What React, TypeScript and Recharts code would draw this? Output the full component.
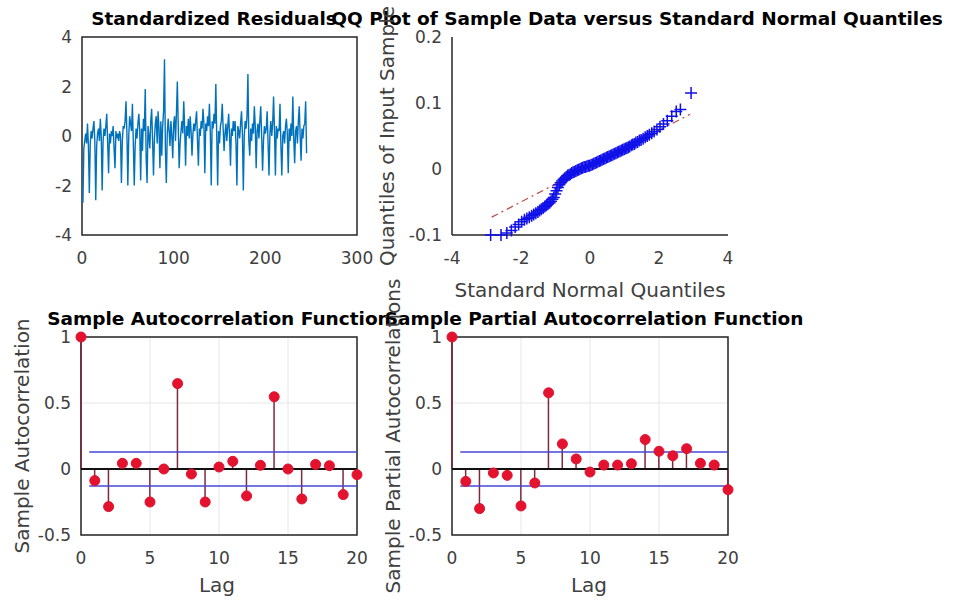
import React from "react";
import {
  LineChart,
  Line,
  ComposedChart,
  Scatter,
  Bar,
  XAxis,
  YAxis,
  CartesianGrid,
  ReferenceArea,
  ReferenceLine,
} from "recharts";

const W = 957;
const H = 603;

// standardized residuals, 35 weeks x 7 days
const residuals = [
  -2.7, -0.5, -0.2, 0.1, -0.3, 0.5, -0.4,
  -2.3, -0.3, 0.2, -0.1, 0.3, 0.6, -0.2,
  -2.6, -0.4, 0.1, 0.3, -0.2, 0.7, 0.0,
  -2.2, -0.2, 0.3, 0.0, 0.4, 0.9, -0.3,
  -1.5, 0.1, -0.3, 0.2, 0.0, 0.4, -0.5,
  -1.3, 0.2, -0.1, 0.1, -0.2, 0.2, 0.0,
  -1.9, -0.2, 0.4, 0.3, 0.6, 1.4, 0.1,
  -2.0, 0.0, 0.8, 0.5, 0.2, 1.3, -0.3,
  -2.0, -0.4, 0.3, -0.1, 0.5, 0.9, 0.2,
  -1.8, 0.3, -0.6, 0.7, 0.2, 1.9, -0.9,
  -1.9, 0.4, 0.0, -0.5, 0.6, 1.1, -0.2,
  -1.6, -0.1, 0.5, 0.8, -0.3, 1.0, 0.3,
  -1.3, 0.6, -0.8, 0.4, 1.0, 3.1, -0.6,
  -1.9, 0.1, 0.7, 0.2, -0.4, 0.6, 0.0,
  -0.9, 0.5, 0.8, -0.2, 0.9, 2.2, 0.4,
  -1.3, -0.3, 0.2, 0.6, 0.1, 1.4, 0.3,
  -1.2, 0.4, 0.0, 0.7, -0.1, 0.8, 0.2,
  -0.8, 0.1, 0.5, 0.2, 0.6, 1.0, -0.2,
  -1.2, 0.3, 0.0, 0.6, 0.3, 1.1, 0.5,
  -1.5, 0.5, 0.2, 0.8, 0.4, 1.3, 0.1,
  -2.0, 0.6, 0.3, 0.9, 0.5, 2.1, 0.0,
  -2.0, 0.2, -0.3, 0.4, 0.6, 1.3, 0.3,
  -0.6, 0.1, 0.5, -0.2, 0.4, 0.9, 0.0,
  -1.2, 0.3, 0.0, 0.6, 0.2, 0.6, -0.3,
  -2.0, 0.4, 0.2, -0.1, 0.5, 1.0, 0.1,
  -2.2, 0.0, 0.6, 0.3, 0.8, 2.5, -0.2,
  -0.8, 0.3, -0.2, 0.5, 0.1, 1.2, 0.4,
  -1.3, 0.2, 0.5, -0.1, 0.6, 1.2, 0.0,
  -1.4, -0.2, 0.4, 0.1, 0.3, 1.0, -0.3,
  -1.6, 0.1, 0.6, 0.0, 0.5, 1.6, 0.2,
  -1.6, 0.4, -0.1, 0.3, 0.2, 1.3, -0.4,
  -1.6, 0.0, 0.2, -0.3, 0.4, 0.7, 0.1,
  -1.5, 0.3, -0.2, 0.5, 0.0, 1.6, -0.1,
  -1.1, 0.2, 0.4, -0.3, 0.6, 1.2, 0.0,
  -1.0, 0.3, -0.1, 0.4, 0.5, 1.4, -0.7,
];
const residTicksX = [0, 100, 200, 300];
const residTicksY = [-4, -2, 0, 2, 4];

// QQ plot: theoretical normal quantiles vs sample quantiles
const qqTheoretical = [
  -2.88, -2.58, -2.41, -2.28, -2.17, -2.07, -1.98, -1.9, -1.83, -1.76,
  -1.69, -1.63, -1.57, -1.51, -1.46, -1.41, -1.36, -1.31, -1.26, -1.22,
  -1.17, -1.13, -1.09, -1.05, -1.01, -0.97, -0.93, -0.89, -0.85, -0.81,
  -0.77, -0.73, -0.69, -0.65, -0.61, -0.57, -0.53, -0.49, -0.45, -0.41,
  -0.37, -0.33, -0.29, -0.25, -0.21, -0.17, -0.13, -0.09, -0.05, -0.01,
  0.03, 0.07, 0.11, 0.15, 0.19, 0.23, 0.27, 0.31, 0.35, 0.39,
  0.43, 0.47, 0.51, 0.55, 0.59, 0.63, 0.67, 0.71, 0.75, 0.79,
  0.83, 0.87, 0.91, 0.95, 0.99, 1.03, 1.07, 1.11, 1.15, 1.2,
  1.24, 1.29, 1.33, 1.38, 1.43, 1.48, 1.54, 1.6, 1.66, 1.72,
  1.79, 1.86, 1.94, 2.03, 2.13, 2.24, 2.37, 2.5, 2.62, 2.93,
];
const qqSample = [
  -0.1, -0.1, -0.097, -0.093, -0.088, -0.084, -0.08, -0.077, -0.075, -0.073,
  -0.071, -0.069, -0.067, -0.065, -0.063, -0.061, -0.059, -0.057, -0.055, -0.053,
  -0.051, -0.049, -0.046, -0.043, -0.038, -0.033, -0.028, -0.024, -0.021, -0.018,
  -0.016, -0.014, -0.012, -0.01, -0.009, -0.008, -0.006, -0.005, -0.004, -0.003,
  -0.002, -0.001, 0.0, 0.001, 0.002, 0.003, 0.003, 0.004, 0.005, 0.005,
  0.006, 0.007, 0.008, 0.009, 0.01, 0.011, 0.012, 0.013, 0.014, 0.015,
  0.016, 0.017, 0.018, 0.019, 0.02, 0.021, 0.022, 0.023, 0.024, 0.025,
  0.026, 0.027, 0.028, 0.029, 0.03, 0.031, 0.032, 0.033, 0.034, 0.036,
  0.037, 0.038, 0.04, 0.041, 0.043, 0.044, 0.046, 0.048, 0.05, 0.052,
  0.054, 0.057, 0.06, 0.064, 0.068, 0.073, 0.08, 0.087, 0.09, 0.115,
];
const qqRefLine = [
  { x: -2.85, y: -0.073 },
  { x: 2.9, y: 0.083 },
];
const qqTicksX = [-4, -2, 0, 2, 4];
const qqTicksY = [-0.1, 0, 0.1, 0.2];

// autocorrelation / partial autocorrelation
const lags = [0, 1, 2, 3, 4, 5, 6, 7, 8, 9, 10, 11, 12, 13, 14, 15, 16, 17, 18, 19, 20];
const acfValues = [
  1, -0.088, -0.285, 0.043, 0.043, -0.25, 0.0, 0.647, -0.038, -0.25, 0.015,
  0.058, -0.204, 0.028, 0.547, 0.0, -0.227, 0.035, 0.025, -0.194, -0.043,
];
const pacfValues = [
  1, -0.094, -0.3, -0.03, -0.048, -0.28, -0.106, 0.577, 0.19, 0.076, -0.023,
  0.03, 0.03, 0.04, 0.223, 0.134, 0.1, 0.154, 0.043, 0.03, -0.157,
];
const confBound = 0.128;
const lagTicks = [0, 5, 10, 15, 20];
const corrTicks = [-0.5, 0, 0.5, 1];

const FONT = "DejaVu Sans";
const frameColor = "#262626";
const tickStyle = { fontSize: 17, fill: "#404040", fontFamily: FONT };
const stemColor = "#7d2a3c";
const dotColor = "#e3122e";
const boundColor = "#4646d8";
const qqBlue = "#1010e8";

const layer: React.CSSProperties = { position: "absolute", left: 0, top: 0 };

const PlusMarker = (props: any) => {
  const { cx, cy } = props;
  const s = 6;
  return (
    <path
      d={`M${cx - s},${cy}H${cx + s}M${cx},${cy - s}V${cy + s}`}
      stroke={qqBlue}
      strokeWidth={1.5}
      fill="none"
    />
  );
};

const ResidualPlot = () => {
  const data = residuals.map((r, i) => ({ t: i + 1, r }));
  return (
    <div style={layer}>
      <LineChart
        width={W}
        height={H}
        data={data}
        margin={{ top: 37, left: 42, right: W - 357, bottom: H - 235 - 30 }}
      >
        <XAxis
          dataKey="t"
          type="number"
          domain={[0, 300]}
          ticks={residTicksX}
          height={30}
          axisLine={false}
          tickLine={false}
          tickSize={0}
          tickMargin={17}
          tick={tickStyle}
        />
        <YAxis
          type="number"
          domain={[-4, 4]}
          ticks={residTicksY}
          width={40}
          axisLine={false}
          tickLine={false}
          tickSize={0}
          tickMargin={10}
          tick={tickStyle}
        />
        <ReferenceArea
          x1={0}
          x2={300}
          y1={-4}
          y2={4}
          fill="none"
          stroke={frameColor}
          strokeWidth={1.5}
        />
        <Line
          dataKey="r"
          stroke="#0072bd"
          strokeWidth={1.4}
          dot={false}
          isAnimationActive={false}
        />
      </LineChart>
    </div>
  );
};

const QQPlot = () => {
  const data = qqTheoretical.map((x, i) => ({ x, y: qqSample[i] }));
  return (
    <div style={layer}>
      <ComposedChart
        width={W}
        height={H}
        margin={{ top: 37, left: 412, right: W - 728, bottom: H - 235 - 30 }}
      >
        <XAxis
          dataKey="x"
          type="number"
          domain={[-4, 4]}
          ticks={qqTicksX}
          height={30}
          stroke={frameColor}
          strokeWidth={1.5}
          tickLine={false}
          tickSize={0}
          tickMargin={17}
          tick={tickStyle}
        />
        <YAxis
          dataKey="y"
          type="number"
          domain={[-0.1, 0.2]}
          ticks={qqTicksY}
          width={40}
          stroke={frameColor}
          strokeWidth={1.5}
          tickLine={false}
          tickSize={0}
          tickMargin={10}
          tick={tickStyle}
        />
        <ReferenceLine
          segment={qqRefLine}
          stroke="#c0504a"
          strokeWidth={1.3}
          strokeDasharray="7 4 2 4"
        />
        <Scatter data={data} shape={PlusMarker} isAnimationActive={false} />
      </ComposedChart>
    </div>
  );
};

const StemPlot = ({ values, left }: { values: number[]; left: number }) => {
  const data = lags.map((lag, i) => ({ lag, v: values[i] }));
  const right = left + 276;
  return (
    <div style={layer}>
      <ComposedChart
        width={W}
        height={H}
        data={data}
        margin={{ top: 337, left: left - 40, right: W - right, bottom: H - 535 - 30 }}
      >
        <CartesianGrid stroke="#e6e6e6" strokeWidth={1} />
        <XAxis
          dataKey="lag"
          type="number"
          domain={[0, 20]}
          ticks={lagTicks}
          height={30}
          axisLine={false}
          tickLine={false}
          tickSize={0}
          tickMargin={17}
          tick={tickStyle}
        />
        <YAxis
          type="number"
          domain={[-0.5, 1]}
          ticks={corrTicks}
          width={40}
          axisLine={false}
          tickLine={false}
          tickSize={0}
          tickMargin={10}
          tick={tickStyle}
        />
        <ReferenceArea
          x1={0}
          x2={20}
          y1={-0.5}
          y2={1}
          fill="none"
          stroke={frameColor}
          strokeWidth={1.5}
        />
        <Bar dataKey="v" barSize={1.5} fill={stemColor} isAnimationActive={false} />
        <ReferenceLine
          segment={[
            { x: 0.6, y: confBound },
            { x: 20, y: confBound },
          ]}
          stroke={boundColor}
          strokeWidth={1.5}
        />
        <ReferenceLine
          segment={[
            { x: 0.6, y: -confBound },
            { x: 20, y: -confBound },
          ]}
          stroke={boundColor}
          strokeWidth={1.5}
        />
        <ReferenceLine y={0} stroke="#111" strokeWidth={2.2} />
        <Line
          dataKey="v"
          stroke="none"
          dot={{ r: 5, fill: dotColor, stroke: dotColor, strokeWidth: 1 }}
          isAnimationActive={false}
        />
      </ComposedChart>
    </div>
  );
};

const Labels = () => {
  const title = { fontFamily: FONT, fontWeight: 700, fontSize: 18.5, fill: "#000" };
  const axisLabel = { fontFamily: FONT, fontSize: 20, fill: "#404040" };
  return (
    <svg width={W} height={H} style={{ ...layer, pointerEvents: "none" }}>
      <text x={214} y={25} textAnchor="middle" {...title}>
        Standardized Residuals
      </text>
      <text x={637} y={25} textAnchor="middle" {...title}>
        QQ Plot of Sample Data versus Standard Normal Quantiles
      </text>
      <text x={219} y={325} textAnchor="middle" {...title}>
        Sample Autocorrelation Function
      </text>
      <text x={594} y={325} textAnchor="middle" {...title}>
        Sample Partial Autocorrelation Function
      </text>
      <text x={590} y={297} textAnchor="middle" {...axisLabel}>
        Standard Normal Quantiles
      </text>
      <text x={217} y={592} textAnchor="middle" {...axisLabel}>
        Lag
      </text>
      <text x={589} y={592} textAnchor="middle" {...axisLabel}>
        Lag
      </text>
      <text
        x={394}
        y={136}
        textAnchor="middle"
        transform="rotate(-90 394 136)"
        {...axisLabel}
      >
        Quantiles of Input Sample
      </text>
      <text
        x={29}
        y={436}
        textAnchor="middle"
        transform="rotate(-90 29 436)"
        {...axisLabel}
      >
        Sample Autocorrelation
      </text>
      <text
        x={400}
        y={436}
        textAnchor="middle"
        transform="rotate(-90 400 436)"
        {...axisLabel}
      >
        Sample Partial Autocorrelations
      </text>
    </svg>
  );
}

export default function App() {
  return (
    <div
      style={{
        position: "absolute",
        left: 0,
        top: 0,
        width: W,
        height: H,
        background: "#fff",
        overflow: "hidden",
      }}
    >
      <ResidualPlot />
      <QQPlot />
      <StemPlot values={acfValues} left={81} />
      <StemPlot values={pacfValues} left={452} />
      <Labels />
    </div>
  );
}
